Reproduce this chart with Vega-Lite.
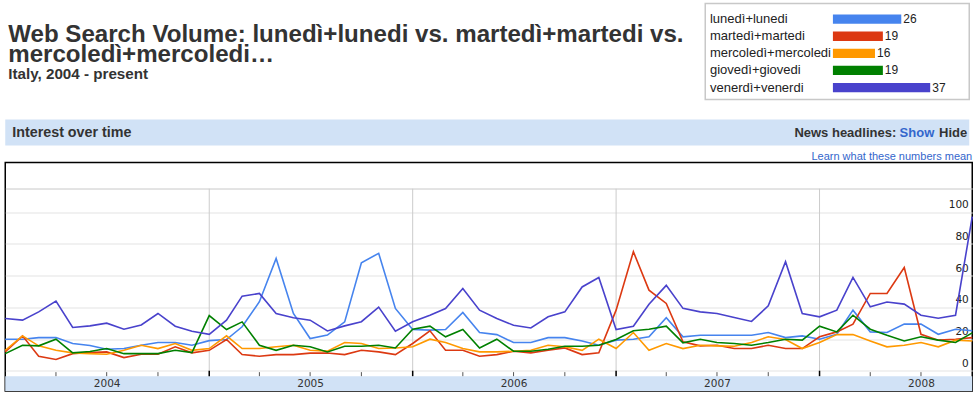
{
  "$schema": "https://vega.github.io/schema/vega-lite/v6.json",
  "padding": {"left": 1.25, "top": 2.5, "right": 0, "bottom": 0},
  "background": "white",
  "config": {"view": {"stroke": null}, "font": "Liberation Sans"},
  "datasets": {
    "trend": [
      {"date": "2004-01-01", "lun": 20.0, "mar": 12.0, "mer": 13.0, "gio": 10.9, "ven": 33.0},
      {"date": "2004-02-01", "lun": 20.0, "mar": 22.1, "mer": 22.1, "gio": 16.2, "ven": 32.0},
      {"date": "2004-03-01", "lun": 21.0, "mar": 9.3, "mer": 15.8, "gio": 15.8, "ven": 37.2},
      {"date": "2004-04-01", "lun": 21.0, "mar": 7.2, "mer": 13.0, "gio": 20.0, "ven": 44.0},
      {"date": "2004-05-01", "lun": 17.3, "mar": 10.9, "mer": 11.4, "gio": 11.4, "ven": 27.4},
      {"date": "2004-06-01", "lun": 16.0, "mar": 11.6, "mer": 10.9, "gio": 12.2, "ven": 28.4},
      {"date": "2004-07-01", "lun": 13.7, "mar": 12.0, "mer": 10.5, "gio": 14.1, "ven": 30.1},
      {"date": "2004-08-01", "lun": 14.1, "mar": 8.4, "mer": 13.0, "gio": 10.9, "ven": 26.3},
      {"date": "2004-09-01", "lun": 16.2, "mar": 10.5, "mer": 16.2, "gio": 10.9, "ven": 29.0},
      {"date": "2004-10-01", "lun": 17.9, "mar": 10.5, "mer": 14.1, "gio": 10.9, "ven": 36.2},
      {"date": "2004-11-01", "lun": 17.9, "mar": 15.2, "mer": 17.3, "gio": 13.0, "ven": 28.2},
      {"date": "2004-12-01", "lun": 16.2, "mar": 11.4, "mer": 13.0, "gio": 11.6, "ven": 25.0},
      {"date": "2005-01-01", "lun": 19.1, "mar": 13.0, "mer": 14.1, "gio": 34.9, "ven": 23.1},
      {"date": "2005-02-01", "lun": 19.8, "mar": 19.8, "mer": 22.1, "gio": 26.1, "ven": 32.0},
      {"date": "2005-03-01", "lun": 27.8, "mar": 10.3, "mer": 14.1, "gio": 30.9, "ven": 47.1},
      {"date": "2005-04-01", "lun": 43.6, "mar": 9.3, "mer": 14.1, "gio": 16.2, "ven": 48.8},
      {"date": "2005-05-01", "lun": 70.9, "mar": 10.3, "mer": 15.2, "gio": 13.0, "ven": 36.2},
      {"date": "2005-06-01", "lun": 36.2, "mar": 10.3, "mer": 16.2, "gio": 16.2, "ven": 33.5},
      {"date": "2005-07-01", "lun": 20.4, "mar": 11.2, "mer": 13.0, "gio": 15.2, "ven": 32.0},
      {"date": "2005-08-01", "lun": 22.6, "mar": 11.3, "mer": 12.5, "gio": 12.0, "ven": 25.2},
      {"date": "2005-09-01", "lun": 30.9, "mar": 10.3, "mer": 17.9, "gio": 15.6, "ven": 28.4},
      {"date": "2005-10-01", "lun": 68.2, "mar": 13.0, "mer": 17.3, "gio": 15.6, "ven": 31.0},
      {"date": "2005-11-01", "lun": 74.1, "mar": 12.0, "mer": 14.1, "gio": 16.2, "ven": 40.2},
      {"date": "2005-12-01", "lun": 39.4, "mar": 10.3, "mer": 14.5, "gio": 14.5, "ven": 25.0},
      {"date": "2006-01-01", "lun": 26.1, "mar": 17.3, "mer": 15.2, "gio": 26.3, "ven": 31.0},
      {"date": "2006-02-01", "lun": 25.7, "mar": 25.3, "mer": 20.0, "gio": 28.2, "ven": 35.1},
      {"date": "2006-03-01", "lun": 26.1, "mar": 13.0, "mer": 17.9, "gio": 21.5, "ven": 39.3},
      {"date": "2006-04-01", "lun": 36.8, "mar": 13.0, "mer": 14.1, "gio": 26.1, "ven": 52.0},
      {"date": "2006-05-01", "lun": 24.2, "mar": 9.3, "mer": 12.0, "gio": 14.5, "ven": 38.3},
      {"date": "2006-06-01", "lun": 22.9, "mar": 10.3, "mer": 12.0, "gio": 20.0, "ven": 33.0},
      {"date": "2006-07-01", "lun": 17.9, "mar": 12.4, "mer": 12.4, "gio": 12.4, "ven": 28.8},
      {"date": "2006-08-01", "lun": 17.9, "mar": 11.4, "mer": 13.0, "gio": 12.4, "ven": 27.1},
      {"date": "2006-09-01", "lun": 21.0, "mar": 13.0, "mer": 16.2, "gio": 13.7, "ven": 34.1},
      {"date": "2006-10-01", "lun": 21.0, "mar": 14.5, "mer": 15.2, "gio": 15.6, "ven": 37.2},
      {"date": "2006-11-01", "lun": 18.9, "mar": 10.3, "mer": 13.0, "gio": 15.6, "ven": 52.9},
      {"date": "2006-12-01", "lun": 16.2, "mar": 11.4, "mer": 20.0, "gio": 16.2, "ven": 58.9},
      {"date": "2007-01-01", "lun": 19.4, "mar": 38.3, "mer": 14.1, "gio": 19.8, "ven": 26.1},
      {"date": "2007-02-01", "lun": 20.0, "mar": 75.1, "mer": 24.2, "gio": 25.3, "ven": 28.2},
      {"date": "2007-03-01", "lun": 21.5, "mar": 50.9, "mer": 13.0, "gio": 26.3, "ven": 42.0},
      {"date": "2007-04-01", "lun": 33.5, "mar": 42.5, "mer": 17.3, "gio": 28.2, "ven": 53.9},
      {"date": "2007-05-01", "lun": 21.5, "mar": 18.3, "mer": 14.1, "gio": 17.7, "ven": 39.4},
      {"date": "2007-06-01", "lun": 22.5, "mar": 15.8, "mer": 16.2, "gio": 20.0, "ven": 37.2},
      {"date": "2007-07-01", "lun": 22.5, "mar": 16.2, "mer": 15.8, "gio": 17.9, "ven": 36.2},
      {"date": "2007-08-01", "lun": 22.5, "mar": 14.1, "mer": 15.6, "gio": 17.3, "ven": 33.7},
      {"date": "2007-09-01", "lun": 22.5, "mar": 14.1, "mer": 17.9, "gio": 16.2, "ven": 31.2},
      {"date": "2007-10-01", "lun": 24.2, "mar": 16.2, "mer": 21.5, "gio": 17.9, "ven": 41.0},
      {"date": "2007-11-01", "lun": 21.0, "mar": 14.1, "mer": 19.8, "gio": 20.0, "ven": 68.8},
      {"date": "2007-12-01", "lun": 22.1, "mar": 14.1, "mer": 14.1, "gio": 19.4, "ven": 36.2},
      {"date": "2008-01-01", "lun": 20.0, "mar": 21.5, "mer": 17.9, "gio": 28.2, "ven": 34.1},
      {"date": "2008-02-01", "lun": 23.1, "mar": 24.6, "mer": 22.9, "gio": 24.6, "ven": 38.3},
      {"date": "2008-03-01", "lun": 38.3, "mar": 29.5, "mer": 22.9, "gio": 35.1, "ven": 58.9},
      {"date": "2008-04-01", "lun": 24.6, "mar": 48.8, "mer": 18.9, "gio": 26.3, "ven": 40.4},
      {"date": "2008-05-01", "lun": 24.2, "mar": 48.8, "mer": 15.2, "gio": 22.5, "ven": 43.4},
      {"date": "2008-06-01", "lun": 29.5, "mar": 65.2, "mer": 16.2, "gio": 18.9, "ven": 42.1},
      {"date": "2008-07-01", "lun": 29.5, "mar": 23.1, "mer": 17.9, "gio": 21.5, "ven": 35.1},
      {"date": "2008-08-01", "lun": 23.1, "mar": 19.4, "mer": 15.2, "gio": 19.4, "ven": 33.2},
      {"date": "2008-09-01", "lun": 26.3, "mar": 20.0, "mer": 19.4, "gio": 17.9, "ven": 35.1},
      {"date": "2008-10-01", "lun": 25.3, "mar": 21.0, "mer": 18.9, "gio": 24.0, "ven": 97.2}
    ]
  },
  "bounds": "full",
  "spacing": 19,
  "vconcat": [
    {
      "bounds": "flush",
      "spacing": 0,
      "hconcat": [
        {
          "width": 700,
          "height": 19.7,
          "data": {"values": []},
          "mark": {"type": "point", "opacity": 0},
          "title": {
            "text": ["Web Search Volume: lunedì+lunedi vs. martedì+martedi vs.", "mercoledì+mercoledi…"],
            "subtitle": "Italy, 2004 - present",
            "orient": "bottom",
            "anchor": "start",
            "frame": "group",
            "offset": 0,
            "dx": 3,
            "font": "Liberation Sans",
            "fontSize": 24.1,
            "fontWeight": "bold",
            "lineHeight": 20,
            "color": "#333333",
            "subtitleFont": "Liberation Sans",
            "subtitleFontSize": 15.2,
            "subtitleFontWeight": "bold",
            "subtitleColor": "#333333",
            "subtitlePadding": 0
          }
        },
        {
          "width": 264,
          "height": 96,
          "view": {"stroke": "#c8c8c8", "strokeWidth": 1.5},
          "data": {"values": [
            {"term": "lunedì+lunedi", "v": 26},
            {"term": "martedì+martedi", "v": 19},
            {"term": "mercoledì+mercoledi", "v": 16},
            {"term": "giovedì+giovedi", "v": 19},
            {"term": "venerdì+venerdi", "v": 37}
          ]},
          "encoding": {
            "y": {"field": "term", "type": "nominal", "sort": null, "scale": {"paddingInner": 0.456, "paddingOuter": 0.535, "align": 0.6}, "axis": null}
          },
          "layer": [
            {
              "mark": {"type": "bar"},
              "encoding": {
                "x": {"field": "v", "type": "quantitative", "scale": {"domain": [-48.55, 51.85], "nice": false, "zero": false}, "axis": null},
                "x2": {"datum": 0},
                "color": {"field": "term", "type": "nominal", "scale": {"domain": ["lunedì+lunedi", "martedì+martedi", "mercoledì+mercoledi", "giovedì+giovedi", "venerdì+venerdi"], "range": ["#4684ee", "#dc3912", "#ff9900", "#008000", "#4942cc"]}, "legend": null}
              }
            },
            {
              "mark": {"type": "text", "align": "left", "dx": 2, "fontSize": 12, "font": "Liberation Sans", "color": "#222222"},
              "encoding": {
                "x": {"field": "v", "type": "quantitative", "scale": {"domain": [-48.55, 51.85], "nice": false, "zero": false}, "axis": null},
                "text": {"field": "v", "type": "quantitative"}
              }
            },
            {
              "mark": {"type": "text", "align": "left", "fontSize": 13, "font": "Liberation Sans", "color": "#222222"},
              "encoding": {
                "x": {"datum": -46.76},
                "text": {"field": "term", "type": "nominal"}
              }
            }
          ]
        }
      ]
    },
    {
      "bounds": "flush",
      "spacing": 17,
      "vconcat": [
        {
          "width": 964,
          "height": 26,
          "view": {"fill": "#d1e2f6", "stroke": null},
          "layer": [
            {
              "data": {"values": [{"p": 0, "t": "Interest over time"}]},
              "mark": {"type": "text", "align": "left", "dx": 7, "fontSize": 14.3, "fontWeight": "bold", "font": "Liberation Sans", "color": "#333333"},
              "encoding": {"x": {"field": "p", "type": "quantitative", "scale": {"domain": [0, 1]}, "axis": null}, "text": {"field": "t"}}
            },
            {
              "data": {"values": [{"p": 1, "t": "News headlines:"}]},
              "mark": {"type": "text", "align": "right", "dx": -73, "fontSize": 13, "fontWeight": "bold", "font": "Liberation Sans", "color": "#333333"},
              "encoding": {"x": {"field": "p", "type": "quantitative", "scale": {"domain": [0, 1]}, "axis": null}, "text": {"field": "t"}}
            },
            {
              "data": {"values": [{"p": 1, "t": "Show"}]},
              "mark": {"type": "text", "align": "right", "dx": -35, "fontSize": 13, "fontWeight": "bold", "font": "Liberation Sans", "color": "#3366cc"},
              "encoding": {"x": {"field": "p", "type": "quantitative", "scale": {"domain": [0, 1]}, "axis": null}, "text": {"field": "t"}}
            },
            {
              "data": {"values": [{"p": 1, "t": "Hide"}]},
              "mark": {"type": "text", "align": "right", "dx": -2, "fontSize": 13, "fontWeight": "bold", "font": "Liberation Sans", "color": "#333333"},
              "encoding": {"x": {"field": "p", "type": "quantitative", "scale": {"domain": [0, 1]}, "axis": null}, "text": {"field": "t"}}
            }
          ]
        },
        {
          "width": 967,
          "height": 228.5,
          "view": {"stroke": "#000000", "strokeWidth": 1.5},
          "title": {"text": "Learn what these numbers mean", "anchor": "end", "frame": "group", "orient": "top", "offset": 1, "fontSize": 11, "fontWeight": "normal", "font": "Liberation Sans", "color": "#3366cc"},
          "encoding": {
            "x": {
              "field": "date",
              "type": "temporal",
              "scale": {"type": "utc", "nice": false, "domain": [{"year": 2004, "month": 1, "date": 1, "utc": true}, {"year": 2008, "month": 10, "date": 1, "utc": true}]},
              "axis": {
                "orient": "bottom",
                "values": [
                  {"year": 2004, "month": 7, "date": 1, "utc": true},
                  {"year": 2005, "month": 7, "date": 1, "utc": true},
                  {"year": 2006, "month": 7, "date": 1, "utc": true},
                  {"year": 2007, "month": 7, "date": 1, "utc": true},
                  {"year": 2008, "month": 7, "date": 1, "utc": true}
                ],
                "format": "%Y",
                "domain": false,
                "ticks": false,
                "grid": false,
                "labelPadding": -4.8,
                "labelBaseline": "alphabetic",
                "labelFont": "DejaVu Sans",
                "labelFontSize": 10.5,
                "labelColor": "#333333",
                "labelFlush": false,
                "labelOverlap": false,
                "title": null,
                "zindex": 1
              }
            }
          },
          "layer": [
            {
              "data": {"values": [{"date": "2005-01-01"}, {"date": "2006-01-01"}, {"date": "2007-01-01"}, {"date": "2008-01-01"}]},
              "mark": {"type": "rule", "color": "#cccccc", "strokeWidth": 1},
              "encoding": {
                "y": {"datum": 114.8, "type": "quantitative", "scale": {"domain": [-12.63, 131.3], "nice": false, "zero": false},
                  "axis": {"orient": "right", "values": [0, 20, 40, 60, 80, 100, 114.8], "labelExpr": "datum.value > 110 ? '' : datum.label", "domain": false, "ticks": false, "grid": true, "gridColor": {"condition": {"test": "datum.value > 110", "value": "#c8c8c8"}, "value": "#e3e3e3"}, "gridWidth": 1, "labelAlign": "right", "labelBaseline": "alphabetic", "labelPadding": -4, "labelOffset": -4.5, "labelFont": "DejaVu Sans", "labelFontSize": 10.5, "labelColor": "#222222", "labelOverlap": false, "labelFlush": false, "title": null}},
                "y2": {"datum": -3.28}
              }
            },
            {
              "data": {"values": [{"date": "2004-01-01", "date2": "2008-10-01"}]},
              "mark": {"type": "rect", "color": "#d1e2f6"},
              "encoding": {
                "x2": {"field": "date2"},
                "y": {"datum": -3.28, "type": "quantitative", "scale": {"domain": [-12.63, 131.3], "nice": false, "zero": false},
                  "axis": {"orient": "right", "values": [0, 20, 40, 60, 80, 100, 114.8], "labelExpr": "datum.value > 110 ? '' : datum.label", "domain": false, "ticks": false, "grid": true, "gridColor": {"condition": {"test": "datum.value > 110", "value": "#c8c8c8"}, "value": "#e3e3e3"}, "gridWidth": 1, "labelAlign": "right", "labelBaseline": "alphabetic", "labelPadding": -4, "labelOffset": -4.5, "labelFont": "DejaVu Sans", "labelFontSize": 10.5, "labelColor": "#222222", "labelOverlap": false, "labelFlush": false, "title": null}},
                "y2": {"datum": -12.63}
              }
            },
            {
              "data": {"values": [
                {"date": "2004-04-01"}, {"date": "2004-07-01"}, {"date": "2004-10-01"},
                {"date": "2005-04-01"}, {"date": "2005-07-01"}, {"date": "2005-10-01"},
                {"date": "2006-04-01"}, {"date": "2006-07-01"}, {"date": "2006-10-01"},
                {"date": "2007-04-01"}, {"date": "2007-07-01"}, {"date": "2007-10-01"},
                {"date": "2008-04-01"}, {"date": "2008-07-01"}
              ]},
              "mark": {"type": "rule", "color": "#555555", "strokeWidth": 1},
              "encoding": {
                "y": {"datum": -0.76, "type": "quantitative", "scale": {"domain": [-12.63, 131.3], "nice": false, "zero": false},
                  "axis": {"orient": "right", "values": [0, 20, 40, 60, 80, 100, 114.8], "labelExpr": "datum.value > 110 ? '' : datum.label", "domain": false, "ticks": false, "grid": true, "gridColor": {"condition": {"test": "datum.value > 110", "value": "#c8c8c8"}, "value": "#e3e3e3"}, "gridWidth": 1, "labelAlign": "right", "labelBaseline": "alphabetic", "labelPadding": -4, "labelOffset": -4.5, "labelFont": "DejaVu Sans", "labelFontSize": 10.5, "labelColor": "#222222", "labelOverlap": false, "labelFlush": false, "title": null}},
                "y2": {"datum": -3.28}
              }
            },
            {
              "data": {"values": [{"date": "2005-01-01"}, {"date": "2006-01-01"}, {"date": "2007-01-01"}, {"date": "2008-01-01"}]},
              "mark": {"type": "rule", "color": "#000000", "strokeWidth": 1.5},
              "encoding": {
                "y": {"datum": 0.13, "type": "quantitative", "scale": {"domain": [-12.63, 131.3], "nice": false, "zero": false},
                  "axis": {"orient": "right", "values": [0, 20, 40, 60, 80, 100, 114.8], "labelExpr": "datum.value > 110 ? '' : datum.label", "domain": false, "ticks": false, "grid": true, "gridColor": {"condition": {"test": "datum.value > 110", "value": "#c8c8c8"}, "value": "#e3e3e3"}, "gridWidth": 1, "labelAlign": "right", "labelBaseline": "alphabetic", "labelPadding": -4, "labelOffset": -4.5, "labelFont": "DejaVu Sans", "labelFontSize": 10.5, "labelColor": "#222222", "labelOverlap": false, "labelFlush": false, "title": null}},
                "y2": {"datum": -3.28}
              }
            },
            {
              "data": {"name": "trend"},
              "transform": [{"fold": ["lun", "mar", "mer", "gio", "ven"], "as": ["s", "value"]}],
              "mark": {"type": "line", "strokeWidth": 1.6},
              "encoding": {
                "y": {
                  "field": "value",
                  "type": "quantitative",
                  "scale": {"domain": [-12.63, 131.3], "nice": false, "zero": false},
                  "axis": {"orient": "right", "values": [0, 20, 40, 60, 80, 100, 114.8], "labelExpr": "datum.value > 110 ? '' : datum.label", "domain": false, "ticks": false, "grid": true, "gridColor": {"condition": {"test": "datum.value > 110", "value": "#c8c8c8"}, "value": "#e3e3e3"}, "gridWidth": 1, "labelAlign": "right", "labelBaseline": "alphabetic", "labelPadding": -4, "labelOffset": -4.5, "labelFont": "DejaVu Sans", "labelFontSize": 10.5, "labelColor": "#222222", "labelOverlap": false, "labelFlush": false, "title": null}
                },
                "color": {
                  "field": "s",
                  "type": "nominal",
                  "scale": {"domain": ["lun", "mar", "mer", "gio", "ven"], "range": ["#4684ee", "#dc3912", "#ff9900", "#008000", "#4942cc"]},
                  "legend": null
                }
              }
            }
          ]
        }
      ]
    }
  ]
}
